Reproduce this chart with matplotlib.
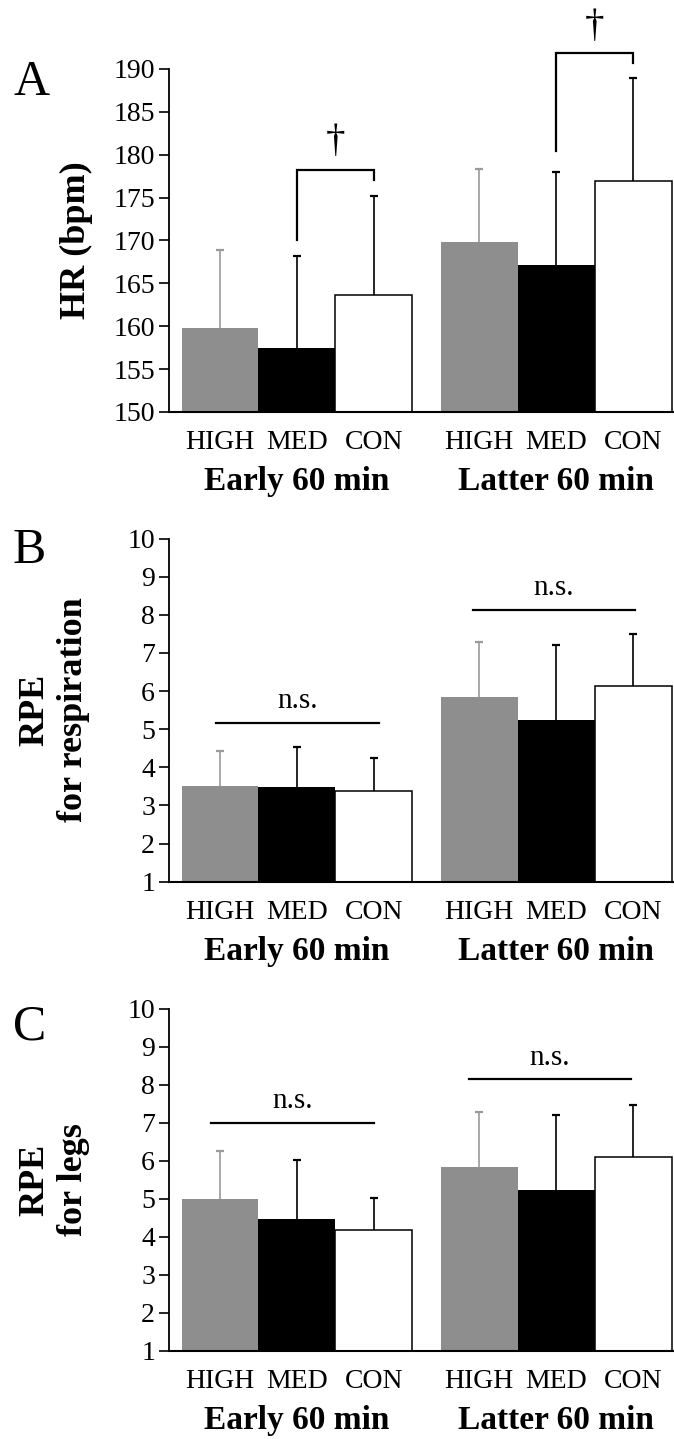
import matplotlib
matplotlib.use("Agg")
import matplotlib.pyplot as plt

# ---------------- data ----------------
groups = ["Early 60 min", "Latter 60 min"]
conditions = ["HIGH", "MED", "CON"]

hr_early_mean = [159.8, 157.5, 163.7]
hr_early_sd = [9.1, 10.7, 11.5]
hr_latter_mean = [169.8, 167.1, 176.9]
hr_latter_sd = [8.5, 10.9, 12.1]

resp_early_mean = [3.52, 3.48, 3.38]
resp_early_sd = [0.92, 1.04, 0.86]
resp_latter_mean = [5.85, 5.23, 6.12]
resp_latter_sd = [1.44, 1.97, 1.37]

legs_early_mean = [4.99, 4.48, 4.19]
legs_early_sd = [1.27, 1.54, 0.84]
legs_latter_mean = [5.84, 5.24, 6.11]
legs_latter_sd = [1.45, 1.96, 1.36]

hr_ticks = [150, 155, 160, 165, 170, 175, 180, 185, 190]
rpe_ticks = [1, 2, 3, 4, 5, 6, 7, 8, 9, 10]

# ---------------- style ----------------
W, H = 674, 1439
plt.rcParams["font.family"] = ["Liberation Serif", "DejaVu Serif"]
fig = plt.figure(figsize=(W / 100, H / 100), dpi=100)

colors = ["#8e8e8e", "#000000", "#ffffff"]
ecolors = ["#9a9a9a", "#000000", "#000000"]
group_offset = 3.37
xpos = [0, 1, 2, group_offset, group_offset + 1, group_offset + 2]


def fy(py):
    return 1 - py / H


def make_panel(top_px, bot_px, means, sds, ylim, ticks, letter, letter_base,
               ylabel, ylabel_x):
    ax = fig.add_axes([169 / W, fy(bot_px), (W - 169) / W, (bot_px - top_px) / H])
    for i in range(3):
        xs = [xpos[i], xpos[i + 3]]
        ms = [means[0][i], means[1][i]]
        ss = [sds[0][i], sds[1][i]]
        ax.bar(xs, ms, width=1.0, color=colors[i],
               edgecolor="black" if i == 2 else colors[i],
               linewidth=1.1 if i == 2 else 0, zorder=2)
        eb = ax.errorbar(xs, ms, yerr=[[0, 0], ss], fmt="none", ecolor=ecolors[i],
                         elinewidth=1.2, capsize=3, capthick=1.6, zorder=3,
                         clip_on=False)
        # hide the lower caps (zero-length lower error)
        for cl in eb[1]:
            yd = list(cl.get_ydata())
            if all(abs(a - b) < 1e-9 for a, b in zip(yd, ms)):
                cl.set_visible(False)
    ax.set_xlim(-0.663, 5.90)
    ax.set_ylim(*ylim)
    ax.set_yticks(ticks)
    ax.set_yticklabels([str(t) for t in ticks])
    ax.tick_params(axis="y", length=7, width=1.2, pad=3, labelsize=20)
    ax.set_xticks([])
    for s in ["top", "right"]:
        ax.spines[s].set_visible(False)
    ax.spines["left"].set_linewidth(1.3)
    ax.spines["bottom"].set_linewidth(1.5)
    ax.patch.set_alpha(0)
    # category and group labels
    for j, x in enumerate(xpos):
        ax.annotate(conditions[j % 3], xy=(x, 0), xycoords=("data", "axes fraction"),
                    xytext=(0, -26.5), textcoords="offset points",
                    ha="center", va="baseline", fontsize=20)
    for g in range(2):
        ax.annotate(groups[g], xy=(xpos[3 * g + 1], 0),
                    xycoords=("data", "axes fraction"),
                    xytext=(0, -56.5), textcoords="offset points",
                    ha="center", va="baseline", fontsize=24, fontweight="bold")
    fig.text(13 / W, fy(letter_base), letter, fontsize=36, ha="left", va="baseline")
    fig.text(ylabel_x / W, fy((top_px + bot_px) / 2), ylabel, rotation=90,
             ha="center", va="center", fontsize=26, fontweight="bold",
             multialignment="center", linespacing=1.2)
    return ax


# Panel A
axA = make_panel(69, 412, [hr_early_mean, hr_latter_mean],
                 [hr_early_sd, hr_latter_sd], (150, 190), hr_ticks,
                 "A", 95, "HR (bpm)", 76)
# significance brackets
for (x1, x2, ylow, ytop, yright, ydag) in [
        (xpos[1], xpos[2], 170.0, 178.2, 177.05, 181.6),
        (xpos[4], xpos[5], 180.4, 191.9, 190.7, 195.0)]:
    axA.plot([x1, x1, x2, x2], [ylow, ytop, ytop, yright], color="black",
             lw=1.6, clip_on=False, zorder=4, solid_joinstyle="miter")
    axA.text((x1 + x2) / 2, ydag, "\u2020", ha="center", va="center",
             fontsize=28, clip_on=False)

# Panel B
axB = make_panel(538.5, 881.7, [resp_early_mean, resp_latter_mean],
                 [resp_early_sd, resp_latter_sd], (1, 10), rpe_ticks,
                 "B", 563, "RPE\nfor respiration", 54)
for (x1, x2, yl, yt) in [(xpos[0] - 0.05, xpos[2] + 0.07, 5.16, 5.55),
                         (xpos[3] - 0.08, xpos[5] + 0.02, 8.13, 8.52)]:
    axB.plot([x1, x2], [yl, yl], color="black", lw=1.6, clip_on=False)
    axB.text((x1 + x2) / 2, yt, "n.s.", ha="center", va="baseline", fontsize=21)

# Panel C
axC = make_panel(1009, 1351, [legs_early_mean, legs_latter_mean],
                 [legs_early_sd, legs_latter_sd], (1, 10), rpe_ticks,
                 "C", 1039, "RPE\nfor legs", 54)
for (x1, x2, yl, yt) in [(xpos[0] - 0.12, xpos[2] + 0.0, 7.0, 7.39),
                         (xpos[3] - 0.14, xpos[5] - 0.03, 8.16, 8.53)]:
    axC.plot([x1, x2], [yl, yl], color="black", lw=1.6, clip_on=False)
    axC.text((x1 + x2) / 2, yt, "n.s.", ha="center", va="baseline", fontsize=21)

fig.savefig("out.png", dpi=100)
